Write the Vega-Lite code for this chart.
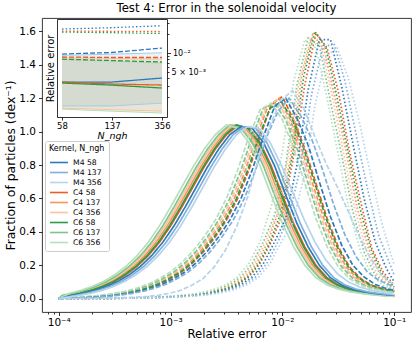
{
"$schema":"https://vega.github.io/schema/vega-lite/v6.json",
"width":369,"height":294,"autosize":"none",
"padding":{"left":42,"top":18,"right":5,"bottom":33},
"title":{"text":"Test 4: Error in the solenoidal velocity","fontSize":11.7,"font":"DejaVu Sans","fontWeight":"normal","anchor":"middle","offset":3,"color":"black","frame":"group"},
"config":{"view":{"stroke":"#222222","strokeWidth":0.9},"font":"DejaVu Sans",
"axis":{"labelFont":"DejaVu Sans","titleFont":"DejaVu Sans","labelColor":"black","titleColor":"black","tickColor":"black","domainColor":"black","tickWidth":0.8,"domainWidth":0.8,"titleFontWeight":"normal","grid":false,"labelFlush":false,"labelBound":false,"labelOverlap":false}},
"datasets":{
"main":[
{"s":"C4 58","u":-4.0,"solid":0,"dashed":0,"dotted":0},
{"s":"C4 58","u":-3.9,"solid":0.02,"dashed":0.003,"dotted":0},
{"s":"C4 58","u":-3.8,"solid":0.033,"dashed":0.006,"dotted":0},
{"s":"C4 58","u":-3.7,"solid":0.05,"dashed":0.01,"dotted":0.001},
{"s":"C4 58","u":-3.6,"solid":0.073,"dashed":0.015,"dotted":0.001},
{"s":"C4 58","u":-3.5,"solid":0.103,"dashed":0.022,"dotted":0.002},
{"s":"C4 58","u":-3.4,"solid":0.143,"dashed":0.032,"dotted":0.003},
{"s":"C4 58","u":-3.3,"solid":0.193,"dashed":0.045,"dotted":0.004},
{"s":"C4 58","u":-3.2,"solid":0.257,"dashed":0.063,"dotted":0.006},
{"s":"C4 58","u":-3.1,"solid":0.337,"dashed":0.087,"dotted":0.008},
{"s":"C4 58","u":-3.0,"solid":0.435,"dashed":0.12,"dotted":0.011},
{"s":"C4 58","u":-2.9,"solid":0.548,"dashed":0.16,"dotted":0.015},
{"s":"C4 58","u":-2.8,"solid":0.668,"dashed":0.215,"dotted":0.02},
{"s":"C4 58","u":-2.7,"solid":0.788,"dashed":0.285,"dotted":0.028},
{"s":"C4 58","u":-2.6,"solid":0.895,"dashed":0.37,"dotted":0.04},
{"s":"C4 58","u":-2.5,"solid":0.982,"dashed":0.47,"dotted":0.058},
{"s":"C4 58","u":-2.4,"solid":1.035,"dashed":0.6,"dotted":0.085},
{"s":"C4 58","u":-2.3,"solid":1.02,"dashed":0.77,"dotted":0.13},
{"s":"C4 58","u":-2.2,"solid":0.935,"dashed":0.97,"dotted":0.21},
{"s":"C4 58","u":-2.1,"solid":0.795,"dashed":1.16,"dotted":0.34},
{"s":"C4 58","u":-2.0,"solid":0.62,"dashed":1.21,"dotted":0.5},
{"s":"C4 58","u":-1.9,"solid":0.45,"dashed":1.07,"dotted":0.85},
{"s":"C4 58","u":-1.8,"solid":0.31,"dashed":0.9,"dotted":1.28},
{"s":"C4 58","u":-1.7,"solid":0.2,"dashed":0.69,"dotted":1.59},
{"s":"C4 58","u":-1.6,"solid":0.125,"dashed":0.48,"dotted":1.5},
{"s":"C4 58","u":-1.5,"solid":0.082,"dashed":0.31,"dotted":1.24},
{"s":"C4 58","u":-1.4,"solid":0.057,"dashed":0.19,"dotted":0.88},
{"s":"C4 58","u":-1.3,"solid":0.041,"dashed":0.12,"dotted":0.58},
{"s":"C4 58","u":-1.2,"solid":0.031,"dashed":0.08,"dotted":0.3},
{"s":"C4 58","u":-1.1,"solid":0.023,"dashed":0.058,"dotted":0.16},
{"s":"C4 58","u":-1.0,"solid":0.018,"dashed":0.045,"dotted":0.08},

{"s":"C4 137","u":-4.0,"solid":0,"dashed":0,"dotted":0},
{"s":"C4 137","u":-3.93,"solid":0.02,"dashed":0.003,"dotted":0},
{"s":"C4 137","u":-3.83,"solid":0.033,"dashed":0.006,"dotted":0},
{"s":"C4 137","u":-3.73,"solid":0.05,"dashed":0.01,"dotted":0.001},
{"s":"C4 137","u":-3.63,"solid":0.073,"dashed":0.015,"dotted":0.001},
{"s":"C4 137","u":-3.53,"solid":0.103,"dashed":0.022,"dotted":0.002},
{"s":"C4 137","u":-3.43,"solid":0.143,"dashed":0.032,"dotted":0.003},
{"s":"C4 137","u":-3.33,"solid":0.193,"dashed":0.045,"dotted":0.004},
{"s":"C4 137","u":-3.23,"solid":0.257,"dashed":0.063,"dotted":0.006},
{"s":"C4 137","u":-3.13,"solid":0.337,"dashed":0.087,"dotted":0.008},
{"s":"C4 137","u":-3.03,"solid":0.435,"dashed":0.12,"dotted":0.011},
{"s":"C4 137","u":-2.93,"solid":0.548,"dashed":0.16,"dotted":0.015},
{"s":"C4 137","u":-2.83,"solid":0.668,"dashed":0.215,"dotted":0.02},
{"s":"C4 137","u":-2.73,"solid":0.788,"dashed":0.285,"dotted":0.028},
{"s":"C4 137","u":-2.63,"solid":0.895,"dashed":0.37,"dotted":0.04},
{"s":"C4 137","u":-2.53,"solid":0.982,"dashed":0.47,"dotted":0.058},
{"s":"C4 137","u":-2.43,"solid":1.04,"dashed":0.6,"dotted":0.085},
{"s":"C4 137","u":-2.33,"solid":1.02,"dashed":0.77,"dotted":0.13},
{"s":"C4 137","u":-2.23,"solid":0.935,"dashed":0.97,"dotted":0.21},
{"s":"C4 137","u":-2.13,"solid":0.795,"dashed":1.15,"dotted":0.34},
{"s":"C4 137","u":-2.03,"solid":0.62,"dashed":1.2,"dotted":0.53},
{"s":"C4 137","u":-1.93,"solid":0.45,"dashed":1.07,"dotted":0.83},
{"s":"C4 137","u":-1.83,"solid":0.31,"dashed":0.9,"dotted":1.32},
{"s":"C4 137","u":-1.73,"solid":0.2,"dashed":0.69,"dotted":1.58},
{"s":"C4 137","u":-1.63,"solid":0.125,"dashed":0.48,"dotted":1.5},
{"s":"C4 137","u":-1.53,"solid":0.082,"dashed":0.31,"dotted":1.2},
{"s":"C4 137","u":-1.43,"solid":0.057,"dashed":0.19,"dotted":0.88},
{"s":"C4 137","u":-1.33,"solid":0.041,"dashed":0.12,"dotted":0.54},
{"s":"C4 137","u":-1.23,"solid":0.031,"dashed":0.08,"dotted":0.3},
{"s":"C4 137","u":-1.13,"solid":0.023,"dashed":0.058,"dotted":0.15},
{"s":"C4 137","u":-1.0,"solid":0.016,"dashed":0.04,"dotted":0.07},

{"s":"C4 356","u":-4.0,"solid":0,"dashed":0,"dotted":0},
{"s":"C4 356","u":-3.95,"solid":0.02,"dashed":0.003,"dotted":0},
{"s":"C4 356","u":-3.85,"solid":0.033,"dashed":0.006,"dotted":0},
{"s":"C4 356","u":-3.75,"solid":0.05,"dashed":0.01,"dotted":0.001},
{"s":"C4 356","u":-3.65,"solid":0.073,"dashed":0.015,"dotted":0.001},
{"s":"C4 356","u":-3.55,"solid":0.103,"dashed":0.022,"dotted":0.002},
{"s":"C4 356","u":-3.45,"solid":0.143,"dashed":0.032,"dotted":0.003},
{"s":"C4 356","u":-3.35,"solid":0.193,"dashed":0.045,"dotted":0.004},
{"s":"C4 356","u":-3.25,"solid":0.257,"dashed":0.063,"dotted":0.006},
{"s":"C4 356","u":-3.15,"solid":0.337,"dashed":0.087,"dotted":0.008},
{"s":"C4 356","u":-3.05,"solid":0.435,"dashed":0.12,"dotted":0.011},
{"s":"C4 356","u":-2.95,"solid":0.548,"dashed":0.16,"dotted":0.015},
{"s":"C4 356","u":-2.85,"solid":0.668,"dashed":0.215,"dotted":0.02},
{"s":"C4 356","u":-2.75,"solid":0.788,"dashed":0.285,"dotted":0.028},
{"s":"C4 356","u":-2.65,"solid":0.895,"dashed":0.37,"dotted":0.04},
{"s":"C4 356","u":-2.55,"solid":0.982,"dashed":0.47,"dotted":0.058},
{"s":"C4 356","u":-2.45,"solid":1.04,"dashed":0.6,"dotted":0.085},
{"s":"C4 356","u":-2.35,"solid":1.02,"dashed":0.77,"dotted":0.13},
{"s":"C4 356","u":-2.25,"solid":0.935,"dashed":0.97,"dotted":0.21},
{"s":"C4 356","u":-2.15,"solid":0.795,"dashed":1.14,"dotted":0.34},
{"s":"C4 356","u":-2.05,"solid":0.62,"dashed":1.19,"dotted":0.5},
{"s":"C4 356","u":-1.95,"solid":0.45,"dashed":1.07,"dotted":0.84},
{"s":"C4 356","u":-1.85,"solid":0.31,"dashed":0.9,"dotted":1.3},
{"s":"C4 356","u":-1.75,"solid":0.2,"dashed":0.69,"dotted":1.55},
{"s":"C4 356","u":-1.65,"solid":0.125,"dashed":0.48,"dotted":1.5},
{"s":"C4 356","u":-1.55,"solid":0.082,"dashed":0.31,"dotted":1.2},
{"s":"C4 356","u":-1.45,"solid":0.057,"dashed":0.19,"dotted":0.86},
{"s":"C4 356","u":-1.35,"solid":0.041,"dashed":0.12,"dotted":0.53},
{"s":"C4 356","u":-1.25,"solid":0.031,"dashed":0.08,"dotted":0.29},
{"s":"C4 356","u":-1.15,"solid":0.023,"dashed":0.058,"dotted":0.14},
{"s":"C4 356","u":-1.0,"solid":0.015,"dashed":0.038,"dotted":0.06},

{"s":"C6 58","u":-4.0,"solid":0,"dashed":0,"dotted":0},
{"s":"C6 58","u":-3.91,"solid":0.02,"dashed":0.003,"dotted":0},
{"s":"C6 58","u":-3.81,"solid":0.033,"dashed":0.006,"dotted":0},
{"s":"C6 58","u":-3.71,"solid":0.05,"dashed":0.01,"dotted":0.001},
{"s":"C6 58","u":-3.61,"solid":0.073,"dashed":0.015,"dotted":0.001},
{"s":"C6 58","u":-3.51,"solid":0.103,"dashed":0.022,"dotted":0.002},
{"s":"C6 58","u":-3.41,"solid":0.143,"dashed":0.032,"dotted":0.003},
{"s":"C6 58","u":-3.31,"solid":0.193,"dashed":0.045,"dotted":0.004},
{"s":"C6 58","u":-3.21,"solid":0.257,"dashed":0.063,"dotted":0.006},
{"s":"C6 58","u":-3.11,"solid":0.337,"dashed":0.087,"dotted":0.008},
{"s":"C6 58","u":-3.01,"solid":0.435,"dashed":0.12,"dotted":0.011},
{"s":"C6 58","u":-2.91,"solid":0.548,"dashed":0.16,"dotted":0.015},
{"s":"C6 58","u":-2.81,"solid":0.668,"dashed":0.215,"dotted":0.02},
{"s":"C6 58","u":-2.71,"solid":0.788,"dashed":0.285,"dotted":0.028},
{"s":"C6 58","u":-2.61,"solid":0.895,"dashed":0.37,"dotted":0.04},
{"s":"C6 58","u":-2.51,"solid":0.982,"dashed":0.47,"dotted":0.058},
{"s":"C6 58","u":-2.41,"solid":1.04,"dashed":0.6,"dotted":0.085},
{"s":"C6 58","u":-2.31,"solid":1.02,"dashed":0.77,"dotted":0.13},
{"s":"C6 58","u":-2.21,"solid":0.935,"dashed":0.97,"dotted":0.21},
{"s":"C6 58","u":-2.11,"solid":0.795,"dashed":1.14,"dotted":0.34},
{"s":"C6 58","u":-2.01,"solid":0.62,"dashed":1.18,"dotted":0.52},
{"s":"C6 58","u":-1.91,"solid":0.45,"dashed":1.07,"dotted":0.86},
{"s":"C6 58","u":-1.81,"solid":0.31,"dashed":0.9,"dotted":1.33},
{"s":"C6 58","u":-1.71,"solid":0.2,"dashed":0.69,"dotted":1.6},
{"s":"C6 58","u":-1.61,"solid":0.125,"dashed":0.48,"dotted":1.5},
{"s":"C6 58","u":-1.51,"solid":0.082,"dashed":0.31,"dotted":1.2},
{"s":"C6 58","u":-1.41,"solid":0.057,"dashed":0.19,"dotted":0.87},
{"s":"C6 58","u":-1.31,"solid":0.041,"dashed":0.12,"dotted":0.55},
{"s":"C6 58","u":-1.21,"solid":0.031,"dashed":0.08,"dotted":0.3},
{"s":"C6 58","u":-1.11,"solid":0.023,"dashed":0.058,"dotted":0.15},
{"s":"C6 58","u":-1.0,"solid":0.017,"dashed":0.043,"dotted":0.07},

{"s":"C6 137","u":-4.0,"solid":0,"dashed":0,"dotted":0},
{"s":"C6 137","u":-3.97,"solid":0.02,"dashed":0.003,"dotted":0},
{"s":"C6 137","u":-3.87,"solid":0.033,"dashed":0.006,"dotted":0},
{"s":"C6 137","u":-3.77,"solid":0.05,"dashed":0.01,"dotted":0.001},
{"s":"C6 137","u":-3.67,"solid":0.073,"dashed":0.015,"dotted":0.001},
{"s":"C6 137","u":-3.57,"solid":0.103,"dashed":0.022,"dotted":0.002},
{"s":"C6 137","u":-3.47,"solid":0.143,"dashed":0.032,"dotted":0.003},
{"s":"C6 137","u":-3.37,"solid":0.193,"dashed":0.045,"dotted":0.004},
{"s":"C6 137","u":-3.27,"solid":0.257,"dashed":0.063,"dotted":0.006},
{"s":"C6 137","u":-3.17,"solid":0.337,"dashed":0.087,"dotted":0.008},
{"s":"C6 137","u":-3.07,"solid":0.435,"dashed":0.12,"dotted":0.011},
{"s":"C6 137","u":-2.97,"solid":0.548,"dashed":0.16,"dotted":0.015},
{"s":"C6 137","u":-2.87,"solid":0.668,"dashed":0.215,"dotted":0.02},
{"s":"C6 137","u":-2.77,"solid":0.788,"dashed":0.285,"dotted":0.028},
{"s":"C6 137","u":-2.67,"solid":0.895,"dashed":0.37,"dotted":0.04},
{"s":"C6 137","u":-2.57,"solid":0.982,"dashed":0.47,"dotted":0.058},
{"s":"C6 137","u":-2.47,"solid":1.04,"dashed":0.6,"dotted":0.085},
{"s":"C6 137","u":-2.37,"solid":1.02,"dashed":0.77,"dotted":0.13},
{"s":"C6 137","u":-2.27,"solid":0.935,"dashed":0.97,"dotted":0.21},
{"s":"C6 137","u":-2.17,"solid":0.795,"dashed":1.14,"dotted":0.34},
{"s":"C6 137","u":-2.07,"solid":0.62,"dashed":1.17,"dotted":0.5},
{"s":"C6 137","u":-1.97,"solid":0.45,"dashed":1.07,"dotted":0.8},
{"s":"C6 137","u":-1.87,"solid":0.31,"dashed":0.9,"dotted":1.28},
{"s":"C6 137","u":-1.77,"solid":0.2,"dashed":0.69,"dotted":1.56},
{"s":"C6 137","u":-1.67,"solid":0.125,"dashed":0.48,"dotted":1.52},
{"s":"C6 137","u":-1.57,"solid":0.082,"dashed":0.31,"dotted":1.18},
{"s":"C6 137","u":-1.47,"solid":0.057,"dashed":0.19,"dotted":0.86},
{"s":"C6 137","u":-1.37,"solid":0.041,"dashed":0.12,"dotted":0.52},
{"s":"C6 137","u":-1.27,"solid":0.031,"dashed":0.08,"dotted":0.28},
{"s":"C6 137","u":-1.17,"solid":0.023,"dashed":0.058,"dotted":0.14},
{"s":"C6 137","u":-1.0,"solid":0.014,"dashed":0.035,"dotted":0.05},

{"s":"C6 356","u":-4.0,"solid":0,"dashed":0,"dotted":0},
{"s":"C6 356","u":-3.9,"solid":0.033,"dashed":0.006,"dotted":0},
{"s":"C6 356","u":-3.8,"solid":0.05,"dashed":0.01,"dotted":0.001},
{"s":"C6 356","u":-3.7,"solid":0.073,"dashed":0.015,"dotted":0.001},
{"s":"C6 356","u":-3.6,"solid":0.103,"dashed":0.022,"dotted":0.002},
{"s":"C6 356","u":-3.5,"solid":0.143,"dashed":0.032,"dotted":0.003},
{"s":"C6 356","u":-3.4,"solid":0.193,"dashed":0.045,"dotted":0.004},
{"s":"C6 356","u":-3.3,"solid":0.257,"dashed":0.063,"dotted":0.006},
{"s":"C6 356","u":-3.2,"solid":0.337,"dashed":0.087,"dotted":0.008},
{"s":"C6 356","u":-3.1,"solid":0.435,"dashed":0.12,"dotted":0.011},
{"s":"C6 356","u":-3.0,"solid":0.548,"dashed":0.16,"dotted":0.015},
{"s":"C6 356","u":-2.9,"solid":0.668,"dashed":0.215,"dotted":0.02},
{"s":"C6 356","u":-2.8,"solid":0.788,"dashed":0.285,"dotted":0.028},
{"s":"C6 356","u":-2.7,"solid":0.895,"dashed":0.37,"dotted":0.04},
{"s":"C6 356","u":-2.6,"solid":0.982,"dashed":0.47,"dotted":0.058},
{"s":"C6 356","u":-2.5,"solid":1.04,"dashed":0.6,"dotted":0.085},
{"s":"C6 356","u":-2.4,"solid":1.02,"dashed":0.77,"dotted":0.13},
{"s":"C6 356","u":-2.3,"solid":0.935,"dashed":0.97,"dotted":0.21},
{"s":"C6 356","u":-2.2,"solid":0.795,"dashed":1.13,"dotted":0.34},
{"s":"C6 356","u":-2.1,"solid":0.62,"dashed":1.17,"dotted":0.55},
{"s":"C6 356","u":-2.0,"solid":0.45,"dashed":1.07,"dotted":0.88},
{"s":"C6 356","u":-1.9,"solid":0.31,"dashed":0.9,"dotted":1.3},
{"s":"C6 356","u":-1.8,"solid":0.2,"dashed":0.69,"dotted":1.55},
{"s":"C6 356","u":-1.7,"solid":0.125,"dashed":0.48,"dotted":1.5},
{"s":"C6 356","u":-1.6,"solid":0.082,"dashed":0.31,"dotted":1.2},
{"s":"C6 356","u":-1.5,"solid":0.057,"dashed":0.19,"dotted":0.86},
{"s":"C6 356","u":-1.4,"solid":0.041,"dashed":0.12,"dotted":0.52},
{"s":"C6 356","u":-1.3,"solid":0.031,"dashed":0.08,"dotted":0.28},
{"s":"C6 356","u":-1.2,"solid":0.023,"dashed":0.058,"dotted":0.14},
{"s":"C6 356","u":-1.1,"solid":0.017,"dashed":0.045,"dotted":0.08},
{"s":"C6 356","u":-1.0,"solid":0.013,"dashed":0.035,"dotted":0.05},

{"s":"M4 58","u":-4.0,"solid":0,"dashed":0,"dotted":0},
{"s":"M4 58","u":-3.87,"solid":0.02,"dashed":0.003,"dotted":0},
{"s":"M4 58","u":-3.77,"solid":0.033,"dashed":0.006,"dotted":0},
{"s":"M4 58","u":-3.67,"solid":0.05,"dashed":0.01,"dotted":0.001},
{"s":"M4 58","u":-3.57,"solid":0.073,"dashed":0.015,"dotted":0.001},
{"s":"M4 58","u":-3.47,"solid":0.103,"dashed":0.022,"dotted":0.002},
{"s":"M4 58","u":-3.37,"solid":0.143,"dashed":0.032,"dotted":0.003},
{"s":"M4 58","u":-3.27,"solid":0.193,"dashed":0.045,"dotted":0.004},
{"s":"M4 58","u":-3.17,"solid":0.257,"dashed":0.063,"dotted":0.006},
{"s":"M4 58","u":-3.07,"solid":0.337,"dashed":0.087,"dotted":0.008},
{"s":"M4 58","u":-2.97,"solid":0.435,"dashed":0.12,"dotted":0.011},
{"s":"M4 58","u":-2.87,"solid":0.548,"dashed":0.16,"dotted":0.015},
{"s":"M4 58","u":-2.77,"solid":0.668,"dashed":0.215,"dotted":0.02},
{"s":"M4 58","u":-2.67,"solid":0.788,"dashed":0.285,"dotted":0.028},
{"s":"M4 58","u":-2.57,"solid":0.895,"dashed":0.37,"dotted":0.04},
{"s":"M4 58","u":-2.47,"solid":0.982,"dashed":0.47,"dotted":0.058},
{"s":"M4 58","u":-2.37,"solid":1.03,"dashed":0.6,"dotted":0.085},
{"s":"M4 58","u":-2.27,"solid":1.02,"dashed":0.77,"dotted":0.13},
{"s":"M4 58","u":-2.17,"solid":0.935,"dashed":0.97,"dotted":0.21},
{"s":"M4 58","u":-2.07,"solid":0.795,"dashed":1.15,"dotted":0.34},
{"s":"M4 58","u":-1.97,"solid":0.62,"dashed":1.2,"dotted":0.48},
{"s":"M4 58","u":-1.87,"solid":0.45,"dashed":1.08,"dotted":0.8},
{"s":"M4 58","u":-1.77,"solid":0.31,"dashed":0.92,"dotted":1.25},
{"s":"M4 58","u":-1.67,"solid":0.2,"dashed":0.7,"dotted":1.55},
{"s":"M4 58","u":-1.57,"solid":0.125,"dashed":0.49,"dotted":1.55},
{"s":"M4 58","u":-1.47,"solid":0.082,"dashed":0.32,"dotted":1.27},
{"s":"M4 58","u":-1.37,"solid":0.057,"dashed":0.2,"dotted":0.93},
{"s":"M4 58","u":-1.27,"solid":0.041,"dashed":0.13,"dotted":0.6},
{"s":"M4 58","u":-1.17,"solid":0.031,"dashed":0.085,"dotted":0.34},
{"s":"M4 58","u":-1.07,"solid":0.023,"dashed":0.06,"dotted":0.18},
{"s":"M4 58","u":-1.0,"solid":0.02,"dashed":0.05,"dotted":0.1},

{"s":"M4 137","u":-4.0,"solid":0,"dashed":0,"dotted":0},
{"s":"M4 137","u":-3.84,"solid":0.02,"dashed":0.003,"dotted":0},
{"s":"M4 137","u":-3.74,"solid":0.033,"dashed":0.006,"dotted":0},
{"s":"M4 137","u":-3.64,"solid":0.05,"dashed":0.01,"dotted":0.001},
{"s":"M4 137","u":-3.54,"solid":0.073,"dashed":0.015,"dotted":0.001},
{"s":"M4 137","u":-3.44,"solid":0.103,"dashed":0.022,"dotted":0.002},
{"s":"M4 137","u":-3.34,"solid":0.143,"dashed":0.032,"dotted":0.003},
{"s":"M4 137","u":-3.24,"solid":0.193,"dashed":0.045,"dotted":0.004},
{"s":"M4 137","u":-3.14,"solid":0.257,"dashed":0.063,"dotted":0.006},
{"s":"M4 137","u":-3.04,"solid":0.337,"dashed":0.087,"dotted":0.008},
{"s":"M4 137","u":-2.94,"solid":0.435,"dashed":0.12,"dotted":0.011},
{"s":"M4 137","u":-2.84,"solid":0.548,"dashed":0.16,"dotted":0.015},
{"s":"M4 137","u":-2.74,"solid":0.668,"dashed":0.215,"dotted":0.02},
{"s":"M4 137","u":-2.64,"solid":0.788,"dashed":0.285,"dotted":0.028},
{"s":"M4 137","u":-2.54,"solid":0.895,"dashed":0.37,"dotted":0.04},
{"s":"M4 137","u":-2.44,"solid":0.982,"dashed":0.47,"dotted":0.058},
{"s":"M4 137","u":-2.34,"solid":1.03,"dashed":0.6,"dotted":0.085},
{"s":"M4 137","u":-2.24,"solid":1.02,"dashed":0.77,"dotted":0.13},
{"s":"M4 137","u":-2.14,"solid":0.935,"dashed":0.97,"dotted":0.21},
{"s":"M4 137","u":-2.04,"solid":0.795,"dashed":1.12,"dotted":0.34},
{"s":"M4 137","u":-1.94,"solid":0.62,"dashed":1.2,"dotted":0.5},
{"s":"M4 137","u":-1.84,"solid":0.45,"dashed":1.1,"dotted":0.78},
{"s":"M4 137","u":-1.74,"solid":0.31,"dashed":0.96,"dotted":1.22},
{"s":"M4 137","u":-1.64,"solid":0.2,"dashed":0.77,"dotted":1.5},
{"s":"M4 137","u":-1.54,"solid":0.125,"dashed":0.56,"dotted":1.53},
{"s":"M4 137","u":-1.44,"solid":0.082,"dashed":0.38,"dotted":1.3},
{"s":"M4 137","u":-1.34,"solid":0.057,"dashed":0.25,"dotted":0.98},
{"s":"M4 137","u":-1.24,"solid":0.041,"dashed":0.16,"dotted":0.66},
{"s":"M4 137","u":-1.14,"solid":0.031,"dashed":0.11,"dotted":0.38},
{"s":"M4 137","u":-1.0,"solid":0.022,"dashed":0.07,"dotted":0.14},

{"s":"M4 356","u":-4.0,"solid":0,"dashed":0,"dotted":0},
{"s":"M4 356","u":-3.81,"solid":0.02,"dashed":0.001,"dotted":0},
{"s":"M4 356","u":-3.71,"solid":0.033,"dashed":0.002,"dotted":0},
{"s":"M4 356","u":-3.61,"solid":0.05,"dashed":0.003,"dotted":0.001},
{"s":"M4 356","u":-3.51,"solid":0.073,"dashed":0.004,"dotted":0.001},
{"s":"M4 356","u":-3.41,"solid":0.103,"dashed":0.006,"dotted":0.002},
{"s":"M4 356","u":-3.31,"solid":0.143,"dashed":0.009,"dotted":0.003},
{"s":"M4 356","u":-3.21,"solid":0.193,"dashed":0.013,"dotted":0.004},
{"s":"M4 356","u":-3.11,"solid":0.257,"dashed":0.02,"dotted":0.006},
{"s":"M4 356","u":-3.01,"solid":0.337,"dashed":0.032,"dotted":0.008},
{"s":"M4 356","u":-2.91,"solid":0.435,"dashed":0.05,"dotted":0.011},
{"s":"M4 356","u":-2.81,"solid":0.548,"dashed":0.08,"dotted":0.015},
{"s":"M4 356","u":-2.71,"solid":0.668,"dashed":0.12,"dotted":0.02},
{"s":"M4 356","u":-2.61,"solid":0.788,"dashed":0.19,"dotted":0.028},
{"s":"M4 356","u":-2.51,"solid":0.895,"dashed":0.29,"dotted":0.04},
{"s":"M4 356","u":-2.41,"solid":0.982,"dashed":0.43,"dotted":0.058},
{"s":"M4 356","u":-2.31,"solid":1.03,"dashed":0.61,"dotted":0.085},
{"s":"M4 356","u":-2.21,"solid":1.02,"dashed":0.85,"dotted":0.13},
{"s":"M4 356","u":-2.11,"solid":0.935,"dashed":1.04,"dotted":0.21},
{"s":"M4 356","u":-2.01,"solid":0.8,"dashed":1.19,"dotted":0.34},
{"s":"M4 356","u":-1.91,"solid":0.64,"dashed":1.245,"dotted":0.45},
{"s":"M4 356","u":-1.81,"solid":0.48,"dashed":1.14,"dotted":0.72},
{"s":"M4 356","u":-1.71,"solid":0.34,"dashed":0.97,"dotted":1.15},
{"s":"M4 356","u":-1.61,"solid":0.23,"dashed":0.81,"dotted":1.45},
{"s":"M4 356","u":-1.51,"solid":0.15,"dashed":0.67,"dotted":1.5},
{"s":"M4 356","u":-1.41,"solid":0.1,"dashed":0.52,"dotted":1.32},
{"s":"M4 356","u":-1.31,"solid":0.07,"dashed":0.37,"dotted":1.05},
{"s":"M4 356","u":-1.21,"solid":0.05,"dashed":0.24,"dotted":0.74},
{"s":"M4 356","u":-1.11,"solid":0.038,"dashed":0.14,"dotted":0.45},
{"s":"M4 356","u":-1.0,"solid":0.025,"dashed":0.08,"dotted":0.2}
],
"inset":[
{"k":"M4","n":"58","solid":0.00347,"dashed":0.00964,"dotted":0.024,"lo":0.00145,"hi":0.0092},
{"k":"M4","n":"137","solid":0.00347,"dashed":0.0102,"dotted":0.0252,"lo":0.00145,"hi":0.0096},
{"k":"M4","n":"356","solid":0.00402,"dashed":0.012,"dotted":0.0271,"lo":0.00161,"hi":0.0101},
{"k":"C4","n":"58","solid":0.00347,"dashed":0.00865,"dotted":0.0223,"lo":0.00134,"hi":0.0084},
{"k":"C4","n":"137","solid":0.00323,"dashed":0.0085,"dotted":0.0221,"lo":0.00127,"hi":0.0082},
{"k":"C4","n":"356","solid":0.00311,"dashed":0.0085,"dotted":0.0219,"lo":0.0012,"hi":0.008},
{"k":"C6","n":"58","solid":0.00335,"dashed":0.008,"dotted":0.0215,"lo":0.00129,"hi":0.0079},
{"k":"C6","n":"137","solid":0.0031,"dashed":0.0076,"dotted":0.021,"lo":0.0012,"hi":0.0074},
{"k":"C6","n":"356","solid":0.00279,"dashed":0.0072,"dotted":0.0204,"lo":0.00112,"hi":0.0069}
]
},
"layer":[
{
"data":{"name":"main"},
"transform":[{"fold":["solid","dashed","dotted"],"as":["style","y"]}],
"mark":{"type":"line","strokeWidth":1.7,"clip":true},
"encoding":{
"x":{"field":"u","type":"quantitative","scale":{"domain":[-4.15,-0.85],"nice":false,"zero":false},
"axis":{"orient":"bottom","domain":false,"values":[-4.097,-4.046,-4,-3.699,-3.523,-3.398,-3.301,-3.222,-3.155,-3.097,-3.046,-3,-2.699,-2.523,-2.398,-2.301,-2.222,-2.155,-2.097,-2.046,-2,-1.699,-1.523,-1.398,-1.301,-1.222,-1.155,-1.097,-1.046,-1],
"labelExpr":"datum.value == -4 ? '10⁻⁴' : datum.value == -3 ? '10⁻³' : datum.value == -2 ? '10⁻²' : datum.value == -1 ? '10⁻¹' : ''",
"tickSize":{"condition":{"test":"datum.value == -4 || datum.value == -3 || datum.value == -2 || datum.value == -1","value":3.5},"value":2},
"labelFontSize":10.5,"labelPadding":2,"title":"Relative error","titleFontSize":11.7,"titlePadding":0}},
"y":{"field":"y","type":"quantitative","scale":{"domain":[-0.08,1.68],"nice":false,"zero":false},
"axis":{"orient":"left","domain":false,"values":[0,0.2,0.4,0.6,0.8,1.0,1.2,1.4,1.6],"format":".1f","tickSize":3.5,"labelPadding":3,"labelFontSize":10.5,"title":"Fraction of particles (dex⁻¹)","titleFontSize":12.4,"titlePadding":1}},
"color":{"field":"s","type":"nominal","scale":{"domain":["M4 58","M4 137","M4 356","C4 58","C4 137","C4 356","C6 58","C6 137","C6 356"],"range":["#2b7bba","#7fb0dc","#b6d3ec","#f05a1e","#f7955b","#fac3a2","#2e9a42","#7fc48b","#b7dfbd"]},
"legend":{"orient":"none","legendX":3,"legendY":123,"title":"Kernel, N_ngh","titleFontSize":8,"titleFontWeight":"normal","titleColor":"black","labelFontSize":7.7,"labelColor":"black","symbolType":"M-1,0H3","symbolStrokeWidth":1.6,"symbolSize":80,"labelOffset":13,"padding":4,"strokeColor":"#cccccc","fillColor":"white","cornerRadius":2,"titlePadding":4,"rowPadding":0}},
"strokeDash":{"field":"style","type":"nominal","scale":{"domain":["solid","dashed","dotted"],"range":[[1,0],[5,2],[1.5,2.2]]},"legend":null}
}
},
{
"data":{"name":"inset"},
"layer":[
{"mark":{"type":"area","fillOpacity":0.1},
"encoding":{
"x":{"field":"n","type":"ordinal","scale":{"type":"point","domain":["58","137","356"],"range":[15,125],"padding":0.1},
"axis":{"orient":"bottom","offset":-195,"labelAngle":0,"labelFontSize":8.5,"tickSize":3,"labelPadding":1,"title":"N_ngh","titleFontSize":9.5,"titleFontStyle":"italic","titlePadding":1}},
"y":{"field":"lo","type":"quantitative","scale":{"type":"log","domain":[0.00097,0.0346],"range":[99,1],"nice":false},
"axis":{"orient":"right","offset":-244,"values":[0.002,0.003,0.004,0.005,0.006,0.007,0.008,0.009,0.01,0.02,0.03],
"labelExpr":"datum.value == 0.01 ? '10⁻²' : datum.value == 0.005 ? '5 × 10⁻³' : ''",
"tickSize":{"condition":{"test":"datum.value == 0.01","value":3.5},"value":2},"labelFontSize":8,"labelPadding":2,"title":null}},
"y2":{"field":"hi"},
"fill":{"field":"k","type":"nominal","scale":{"domain":["M4","C4","C6"],"range":["#2b7bba","#f05a1e","#2e9a42"]},"legend":null}
}},
{"mark":{"type":"line","strokeWidth":1},
"encoding":{
"x":{"field":"n","type":"ordinal","axis":{"orient":"top","offset":-1,"labels":false,"ticks":false,"title":null}},
"y":{"field":"lo","type":"quantitative","axis":{"orient":"left","offset":-15,"labels":false,"ticks":false,"title":"Relative error","titleFontSize":10,"titlePadding":2}},
"color":{"field":"k","type":"nominal","scale":{"domain":["M4","C4","C6"],"range":["#a9cbe8","#f9c2a0","#b3deb9"]},"legend":null}
}},
{"mark":{"type":"line","strokeWidth":1},
"encoding":{
"x":{"field":"n","type":"ordinal","axis":null},
"y":{"field":"hi","type":"quantitative","axis":null},
"color":{"field":"k","type":"nominal","legend":null}
}},
{"transform":[{"fold":["solid","dashed","dotted"],"as":["style","val"]}],
"mark":{"type":"line","strokeWidth":1.3},
"encoding":{
"x":{"field":"n","type":"ordinal","axis":null},
"y":{"field":"val","type":"quantitative","axis":null},
"stroke":{"field":"k","type":"nominal","scale":{"domain":["M4","C4","C6"],"range":["#2b7bba","#f05a1e","#2e9a42"]},"legend":null},
"strokeDash":{"field":"style","type":"nominal","legend":null}
}}
],
"resolve":{"axis":{"x":"independent","y":"independent"}}
}
],
"resolve":{"scale":{"x":"independent","y":"independent","color":"independent"}}
}
